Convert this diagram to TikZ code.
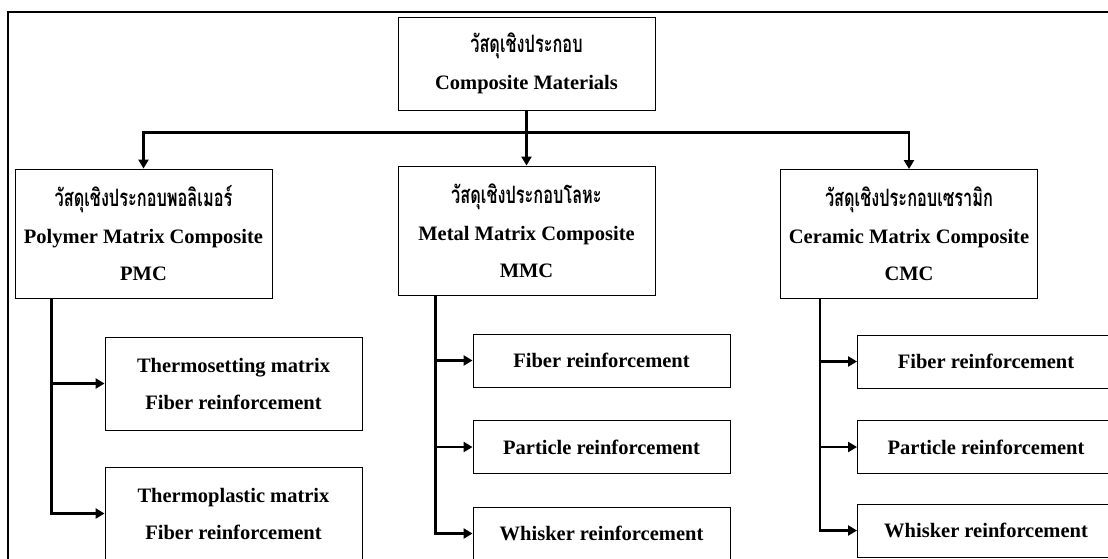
\documentclass[tikz,border=0pt]{standalone}
\usepackage{fontspec}
\setmainfont{Liberation Serif}
\newfontfamily\thaifont[Script=Thai, FakeStretch=0.68]{Loma}
\usetikzlibrary{positioning, calc, arrows.meta}

\newcommand{\thtxt}[1]{{\thaifont\bfseries\fontsize{24}{37}\selectfont #1}}

\tikzset{
	box/.style={draw, line width=0.9pt, align=center, inner sep=0pt, minimum width=257pt, font=\fontsize{20.5}{37}\selectfont\bfseries},
	bigbox/.style={box, minimum height=129pt},
	subbox/.style={box, minimum height=53pt},
	conn/.style={line width=2.7pt},
	arr/.style={conn, -{Triangle[length=9pt,width=10pt]}},
}

\begin{document}
\begin{tikzpicture}[x=1pt, y=-1pt]
			\useasboundingbox (0,0) rectangle (1108,558);
			\clip (0,0) rectangle (1108,558);
			\draw[line width=1.2pt] (8,12) rectangle (1130,590);

			\path node[box, minimum height=93pt] (top) at (526.5,63.5) {\thtxt{วัสดุเชิงประกอบ}\\Composite Materials};

			\path node[bigbox] (pmc) at (143.5,233.5) {\thtxt{วัสดุเชิงประกอบพอลิเมอร์}\\Polymer Matrix Composite\\PMC};
			\path node[bigbox] (mmc) at (526.5,230.5) {\thtxt{วัสดุเชิงประกอบโลหะ}\\Metal Matrix Composite\\MMC};
			\path node[bigbox] (cmc) at (909,234) {\thtxt{วัสดุเชิงประกอบเซรามิก}\\Ceramic Matrix Composite\\CMC};

			\path node[box, minimum height=93pt] (pmc fiber) at (233.5,383.5) {Thermosetting matrix\\Fiber reinforcement};
			\path node[box, minimum height=93pt] (pmc plastic) at (233.5,513.5) {Thermoplastic matrix\\Fiber reinforcement};

			\path node[subbox] (mmc fiber) at (601.5,360.5) {Fiber reinforcement};
			\path node[subbox] (mmc particle) at (601.5,447) {Particle reinforcement};
			\path node[subbox] (mmc whisker) at (601.5,533.5) {Whisker reinforcement};

			\path node[subbox] (cmc fiber) at (986,361.5) {Fiber reinforcement};
			\path node[subbox] (cmc particle) at (986,447) {Particle reinforcement};
			\path node[subbox] (cmc whisker) at (986,530.5) {Whisker reinforcement};

			\coordinate (bus) at ($(top.south)+(0,22)$);
			\draw[conn] (top.south) -- (bus);
			\draw[arr] (bus) -| (pmc.north);
			\draw[arr] (bus) -- (mmc.north);
			\draw[arr] (bus) -| (cmc.north);

			\draw[arr] ([xshift=37pt]pmc.south west) |- (pmc fiber.west);
			\draw[arr] ([xshift=37pt]pmc.south west) |- (pmc plastic.west);

			\draw[arr] ([xshift=38pt]mmc.south west) |- (mmc fiber.west);
			\draw[arr] ([xshift=38pt]mmc.south west) |- (mmc particle.west);
			\draw[arr] ([xshift=38pt]mmc.south west) |- (mmc whisker.west);

			\draw[arr] ([xshift=40pt]cmc.south west) |- (cmc fiber.west);
			\draw[arr] ([xshift=40pt]cmc.south west) |- (cmc particle.west);
			\draw[arr] ([xshift=40pt]cmc.south west) |- (cmc whisker.west);
		\end{tikzpicture}
\end{document}
